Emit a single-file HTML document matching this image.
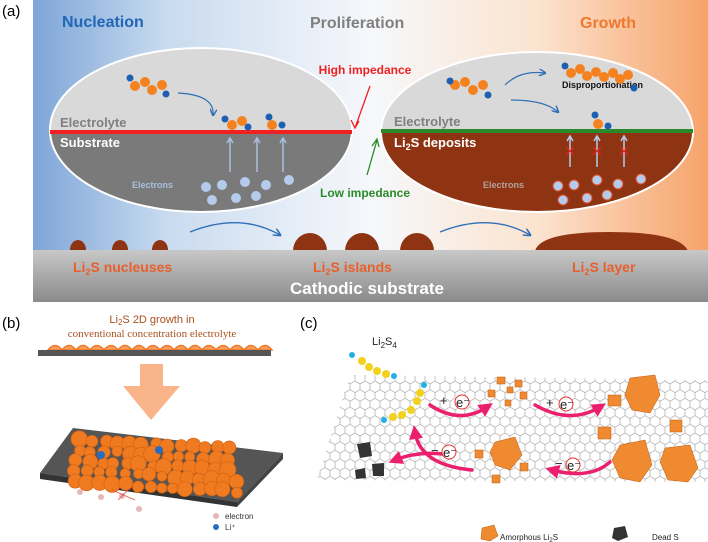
<!DOCTYPE html>
<html><head><meta charset="utf-8"><style>
body{margin:0;width:708px;height:542px;overflow:hidden;background:#fff}
svg{display:block}
text{font-family:"Liberation Sans",sans-serif}
</style></head><body>
<svg width="708" height="542" viewBox="0 0 708 542" xmlns="http://www.w3.org/2000/svg">
<defs>
<linearGradient id="bg" x1="0" x2="1" y1="0" y2="0">
<stop offset="0" stop-color="#7ea6d8"/><stop offset="0.2" stop-color="#c9dbef"/>
<stop offset="0.5" stop-color="#f6f8fb"/><stop offset="0.75" stop-color="#fbe3cf"/>
<stop offset="1" stop-color="#f7a36a"/></linearGradient>
<linearGradient id="gb" x1="0" x2="0" y1="0" y2="1"><stop offset="0" stop-color="#c8c8c8"/><stop offset="1" stop-color="#8a8a8a"/></linearGradient>
<clipPath id="cl"><ellipse cx="201" cy="130" rx="151" ry="82"/></clipPath>
<clipPath id="cr"><ellipse cx="537" cy="132" rx="156" ry="80"/></clipPath>
<pattern id="hex" width="10" height="17.32" patternUnits="userSpaceOnUse">
<path d="M0 2.9 L5 0 L10 2.9 L10 8.66 L5 11.55 L0 8.66 Z M5 11.55 L5 17.32" fill="none" stroke="#a8a8a8" stroke-width="0.7"/></pattern>
<marker id="ab" markerWidth="6" markerHeight="6" refX="5" refY="3" orient="auto"><path d="M0 0 L6 3 L0 6" fill="none" stroke="#2e6fb5" stroke-width="1.2"/></marker>
<marker id="ap" markerWidth="4" markerHeight="4" refX="2" refY="2" orient="auto"><path d="M0 0 L4 2 L0 4 Z" fill="#ec1f6e"/></marker>
</defs>
<text x="2" y="16" font-size="15">(a)</text>
<rect x="33" y="0" width="675" height="302" fill="url(#bg)"/>
<text x="62" y="27" font-size="16" font-weight="bold" fill="#2067b8">Nucleation</text>
<text x="310" y="28" font-size="16" font-weight="bold" fill="#808080">Proliferation</text>
<text x="580" y="28" font-size="16" font-weight="bold" fill="#f0782c">Growth</text>
<g clip-path="url(#cl)"><rect x="40" y="40" width="320" height="92" fill="#d9d9d9"/><rect x="40" y="132" width="320" height="90" fill="#7a7a7a"/></g>
<ellipse cx="201" cy="130" rx="151" ry="82" fill="none" stroke="#fff" stroke-width="2"/>
<rect x="50" y="130" width="302" height="4" fill="#f02020"/>
<text x="60" y="127" font-size="13" font-weight="bold" fill="#808080">Electrolyte</text>
<text x="60" y="147" font-size="13" font-weight="bold" fill="#fff">Substrate</text>
<text x="132" y="188" font-size="9" font-weight="bold" fill="#a9bfe0">Electrons</text>
<g fill="#b4cbeb"><circle cx="206" cy="187" r="5"/><circle cx="222" cy="185" r="5"/><circle cx="245" cy="182" r="5"/><circle cx="266" cy="185" r="5"/><circle cx="289" cy="180" r="5"/><circle cx="212" cy="200" r="5"/><circle cx="236" cy="198" r="5"/><circle cx="256" cy="196" r="5"/></g>
<g stroke="#a9bfe0" stroke-width="1.5" fill="none"><path d="M230 172V138M227 143l3-5 3 5"/><path d="M257 172V138M254 143l3-5 3 5"/><path d="M283 172V138M280 143l3-5 3 5"/></g>
<path d="M178 93 Q215 95 213 115" fill="none" stroke="#2e6fb5" stroke-width="1.2" marker-end="url(#ab)"/>
<g fill="#f58220"><circle cx="135" cy="86" r="5"/><circle cx="145" cy="82" r="5"/><circle cx="152" cy="90" r="5"/><circle cx="162" cy="85" r="5"/><circle cx="232" cy="125" r="5"/><circle cx="242" cy="121" r="5"/><circle cx="272" cy="125" r="5"/></g>
<g fill="#1f5fb0"><circle cx="130" cy="78" r="3.5"/><circle cx="166" cy="94" r="3.5"/><circle cx="225" cy="119" r="3.5"/><circle cx="248" cy="127" r="3.5"/><circle cx="269" cy="117" r="3.5"/><circle cx="282" cy="125" r="3.5"/></g>
<text x="365" y="74" font-size="12" font-weight="bold" fill="#f02020" text-anchor="middle">High impedance</text>
<path d="M370 86 L355 128" stroke="#f02020" stroke-width="1.3"/><path d="M351 120 L355 128 L359 121" fill="none" stroke="#f02020" stroke-width="1.3"/>
<text x="365" y="197" font-size="12" font-weight="bold" fill="#2a8a2a" text-anchor="middle">Low impedance</text>
<path d="M367 175 L377 140" stroke="#2a8a2a" stroke-width="1.3"/><path d="M372 146 L377 139 L379 147" fill="none" stroke="#2a8a2a" stroke-width="1.3"/>
<g clip-path="url(#cr)"><rect x="375" y="40" width="330" height="91" fill="#d9d9d9"/><rect x="375" y="131" width="330" height="90" fill="#8e3412"/></g>
<ellipse cx="537" cy="132" rx="156" ry="80" fill="none" stroke="#fff" stroke-width="2"/>
<rect x="381" y="129" width="312" height="4" fill="#2a8a2a"/>
<text x="394" y="126" font-size="13" font-weight="bold" fill="#808080">Electrolyte</text>
<text x="394" y="147" font-size="13" font-weight="bold" fill="#fff">Li<tspan font-size="9" dy="3">2</tspan><tspan dy="-3">S deposits</tspan></text>
<text x="562" y="88" font-size="9" font-weight="bold" fill="#111">Disproportionation</text>
<text x="483" y="188" font-size="9" font-weight="bold" fill="#b4a0a0">Electrons</text>
<g fill="#b4cbeb" stroke="#e0502a" stroke-width="1"><circle cx="558" cy="186" r="5"/><circle cx="574" cy="185" r="5"/><circle cx="597" cy="180" r="5"/><circle cx="618" cy="184" r="5"/><circle cx="641" cy="179" r="5"/><circle cx="563" cy="200" r="5"/><circle cx="587" cy="198" r="5"/><circle cx="607" cy="195" r="5"/></g>
<g stroke="#b4cbeb" stroke-width="1.5" fill="none"><path d="M570 167V136M567 141l3-5 3 5"/><path d="M597 167V136M594 141l3-5 3 5"/><path d="M624 167V136M621 141l3-5 3 5"/></g>
<g stroke="#f02020" stroke-width="1.2"><path d="M566 147l8 8M574 147l-8 8M593 147l8 8M601 147l-8 8M620 147l8 8M628 147l-8 8"/></g>
<path d="M505 85 Q520 70 545 73" fill="none" stroke="#2e6fb5" stroke-width="1.2" marker-end="url(#ab)"/>
<path d="M511 100 Q545 100 558 112" fill="none" stroke="#2e6fb5" stroke-width="1.2" marker-end="url(#ab)"/>
<g fill="#f58220"><circle cx="455" cy="85" r="5"/><circle cx="465" cy="82" r="5"/><circle cx="473" cy="90" r="5"/><circle cx="483" cy="85" r="5"/><circle cx="571" cy="73" r="5"/><circle cx="580" cy="69" r="5"/><circle cx="587" cy="76" r="5"/><circle cx="596" cy="72" r="5"/><circle cx="604" cy="77" r="5"/><circle cx="613" cy="73" r="5"/><circle cx="620" cy="79" r="5"/><circle cx="628" cy="75" r="5"/><circle cx="598" cy="124" r="5"/></g>
<g fill="#1f5fb0"><circle cx="450" cy="81" r="3.5"/><circle cx="488" cy="95" r="3.5"/><circle cx="565" cy="66" r="3.5"/><circle cx="634" cy="88" r="3.5"/><circle cx="595" cy="115" r="3.5"/><circle cx="608" cy="126" r="3.5"/></g>
<path d="M190 232 Q240 212 280 235" fill="none" stroke="#2e6fb5" stroke-width="1.3" marker-end="url(#ab)"/>
<path d="M440 232 Q490 212 530 235" fill="none" stroke="#2e6fb5" stroke-width="1.3" marker-end="url(#ab)"/>
<g fill="#8e3412"><ellipse cx="78" cy="250" rx="8" ry="10"/><ellipse cx="120" cy="250" rx="8" ry="10"/><ellipse cx="160" cy="250" rx="8" ry="10"/>
<ellipse cx="310" cy="251" rx="17" ry="18"/><ellipse cx="362" cy="251" rx="17" ry="18"/><ellipse cx="417" cy="251" rx="17" ry="18"/>
<path d="M535 251 Q540 232 610 232 Q680 232 688 251 Z"/></g>
<rect x="33" y="250" width="675" height="52" fill="url(#gb)"/>
<text x="73" y="272" font-size="14" font-weight="bold" fill="#e8602c">Li<tspan font-size="9" dy="3">2</tspan><tspan dy="-3">S nucleuses</tspan></text>
<text x="313" y="272" font-size="14" font-weight="bold" fill="#e8602c">Li<tspan font-size="9" dy="3">2</tspan><tspan dy="-3">S islands</tspan></text>
<text x="572" y="272" font-size="14" font-weight="bold" fill="#e8602c">Li<tspan font-size="9" dy="3">2</tspan><tspan dy="-3">S layer</tspan></text>
<text x="367" y="294" font-size="17" font-weight="bold" fill="#fff" text-anchor="middle">Cathodic substrate</text>
<text x="2" y="328" font-size="15">(b)</text>
<text x="152" y="323" font-size="11" fill="#a8501e" text-anchor="middle" font-family="Liberation Serif">Li<tspan font-size="8" dy="2">2</tspan><tspan dy="-2">S 2D growth in</tspan></text>
<text x="152" y="337" font-size="11" fill="#a8501e" text-anchor="middle" style="font-family:'Liberation Serif'">conventional  concentration  electrolyte</text>
<g fill="#f5a060" stroke="#f07a2a" stroke-width="1.5"><path d="M48 350 q7-9 14 0 q7-9 14 0 q7-9 14 0 q7-9 14 0 q7-9 14 0 q7-9 14 0 q7-9 14 0 q7-9 14 0 q7-9 14 0 q7-9 14 0 q7-9 14 0 q7-9 14 0 q7-9 14 0 q7-9 14 0 q7-9 14 0 q7-9 14 0 Z"/></g>
<rect x="38" y="350" width="233" height="6" fill="#555"/>
<path d="M140 364 H163 V386 H180 L151 420 L123 386 H140 Z" fill="#f9b48a"/>
<polygon points="73,428 283,453 237,502 40,473" fill="#555"/>
<polygon points="40,473 237,502 237,507 40,479" fill="#333"/>
<polygon points="237,502 283,453 283,459 237,507" fill="#444"/>
<g id="sph" fill="#f07a20"></g>
<g fill="#2a6cc0"><circle cx="101" cy="455" r="4"/><circle cx="159" cy="450" r="4"/></g>
<g fill="#e8b8b8"><circle cx="80" cy="492" r="3"/><circle cx="101" cy="497" r="3"/><circle cx="122" cy="496" r="3"/><circle cx="139" cy="509" r="3"/><circle cx="216" cy="516" r="3"/></g>
<path d="M112 490 L135 500 M130 488 L118 500" stroke="#e05050" stroke-width="0.8"/>
<g fill="#2a6cc0"><circle cx="216" cy="527" r="3"/></g>
<text x="225" y="519" font-size="8" fill="#333">electron</text>
<text x="225" y="530" font-size="8" fill="#333">Li⁺</text>
<text x="300" y="328" font-size="15">(c)</text>
<polygon points="350,375 708,380 708,482 317,480" fill="url(#hex)"/>
<text x="372" y="345" font-size="11" fill="#222">Li<tspan font-size="8" dy="3">2</tspan><tspan dy="-3">S</tspan><tspan font-size="8" dy="3">4</tspan></text>
<g fill="#f2d21c"><circle cx="362" cy="361" r="4"/><circle cx="369" cy="367" r="4"/><circle cx="377" cy="371" r="4"/><circle cx="386" cy="374" r="4"/><circle cx="420" cy="393" r="4"/><circle cx="417" cy="401" r="4"/><circle cx="411" cy="410" r="4"/><circle cx="402" cy="415" r="4"/><circle cx="393" cy="417" r="4"/></g>
<g fill="#22b0e8"><circle cx="352" cy="355" r="3"/><circle cx="394" cy="376" r="3"/><circle cx="424" cy="385" r="3"/><circle cx="384" cy="420" r="3"/></g>
<g fill="none" stroke-linecap="round">
<path d="M430 405 Q460 425 487 407" stroke="#ec1f6e" stroke-width="3.5" marker-end="url(#ap)"/>
<path d="M535 405 Q570 425 600 407" stroke="#ec1f6e" stroke-width="3.5" marker-end="url(#ap)"/>
<path d="M472 470 Q420 465 415 432" stroke="#ec1f6e" stroke-width="3.5" marker-end="url(#ap)"/>
<path d="M450 455 Q420 450 395 460" stroke="#ec1f6e" stroke-width="3.5" marker-end="url(#ap)"/>
<path d="M610 462 Q590 480 552 470" stroke="#ec1f6e" stroke-width="3.5" marker-end="url(#ap)"/>
</g>
<g font-size="13" fill="#222">
<text x="440" y="405">+</text><circle cx="462" cy="402" r="7" fill="#fff" stroke="#e8302c"/><text x="456" y="407">e⁻</text>
<text x="546" y="407">+</text><circle cx="566" cy="404" r="7" fill="#fff" stroke="#e8302c"/><text x="560" y="409">e⁻</text>
<text x="431" y="455">−</text><circle cx="449" cy="452" r="7" fill="#fff" stroke="#e8302c"/><text x="443" y="457">e⁻</text>
<text x="555" y="468">−</text><circle cx="573" cy="465" r="7" fill="#fff" stroke="#e8302c"/><text x="567" y="470">e⁻</text>
</g>
<g fill="#f08a30" stroke="#c05a10" stroke-width="0.5">
<rect x="497" y="377" width="8" height="7"/><rect x="515" y="380" width="7" height="7"/><rect x="488" y="390" width="7" height="7"/><rect x="507" y="387" width="6" height="6"/><rect x="520" y="392" width="7" height="7"/><rect x="505" y="400" width="6" height="6"/>
<polygon points="630,378 655,375 660,395 650,413 632,410 625,395"/><rect x="608" y="395" width="13" height="11"/><rect x="670" y="420" width="12" height="12"/><rect x="598" y="427" width="13" height="12"/>
<polygon points="495,442 515,437 522,455 510,470 495,465 490,452"/><rect x="475" y="450" width="8" height="8"/><rect x="520" y="463" width="8" height="8"/><rect x="492" y="475" width="8" height="8"/>
<polygon points="620,445 645,440 652,465 640,482 620,478 612,460"/><polygon points="665,448 690,445 698,468 688,482 668,480 660,462"/>
<polygon points="482,528 494,525 498,536 490,541 481,539"/>
</g>
<g fill="#333"><polygon points="357,444 370,442 372,456 360,458"/><polygon points="355,470 365,468 366,478 356,479"/><polygon points="372,464 384,463 384,476 373,476"/><polygon points="614,528 625,526 628,537 618,541 612,538"/></g>
<text x="500" y="540" font-size="8" fill="#222">Amorphous Li<tspan font-size="6" dy="2">2</tspan><tspan dy="-2">S</tspan></text>
<text x="652" y="540" font-size="8" fill="#222">Dead S</text>
</svg>
<script>
var g=document.getElementById('sph'),s='',seed=3;
function r(){seed=(seed*9301+49297)%233280;return seed/233280;}
for(var row=0;row<5;row++){for(var c=0;c<14;c++){
 var x=80+c*12.5+(r()-0.5)*4-row*1.5, y=440+row*10.5+(x-80)*0.06+(r()-0.5)*3;
 if(x>240)continue;
 var rad=5+r()*3.5;
 s+='<circle cx="'+x.toFixed(1)+'" cy="'+y.toFixed(1)+'" r="'+rad.toFixed(1)+'" stroke="#d06010" stroke-width="0.6"/>';}}
g.innerHTML=s;
</script>
</body></html>
